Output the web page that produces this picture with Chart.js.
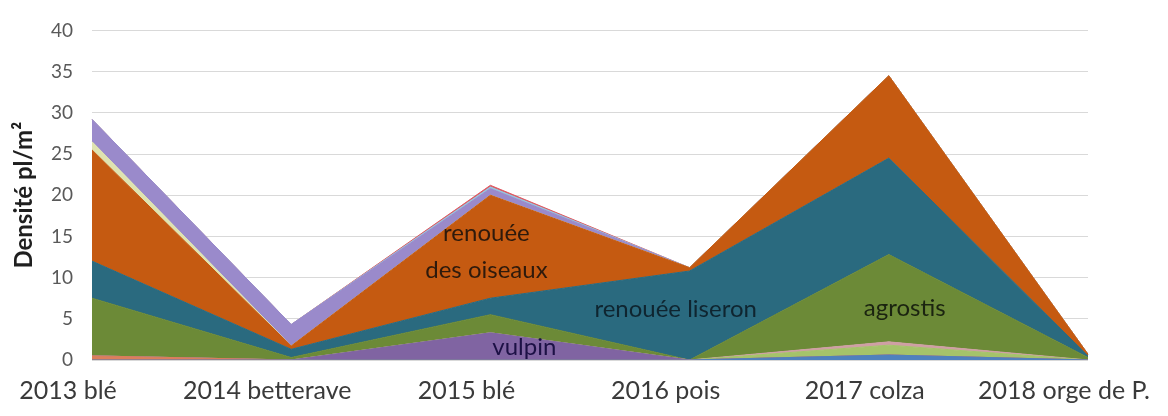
<!DOCTYPE html>
<html lang="fr">
<head>
<meta charset="utf-8">
<title>Densité des adventices</title>
<script src="https://cdn.jsdelivr.net/npm/chart.js@4.4.1/dist/chart.umd.min.js"></script>
<style>
  html, body { margin: 0; padding: 0; background: #fff; }
  #wrap { width: 1168px; height: 416px; }
</style>
</head>
<body>
<div id="wrap"><canvas id="chart" width="1168" height="416"></canvas></div>
<script>
// Categories (x axis)
const cultures = ['2013 blé', '2014 betterave', '2015 blé', '2016 pois', '2017 colza', '2018 orge de P.'];

// Stacked series, bottom to top (plants / m²)
const bleuet      = [0,   0,   0,   0,    0.6,  0];
const rayGrass    = [0.5, 0,   0,   0,    0,    0];
const vulpin      = [0,   0,   3.3, 0,    0,    0];
const matricaire  = [0,   0,   0,   0,    1.2,  0];
const pensee      = [0,   0,   0,   0,    0.4,  0];
const agrostis    = [7,   0.3, 2.2, 0,    10.6, 0.3];
const liseron     = [4.5, 1.0, 2.0, 10.8, 11.7, 0.2];
const oiseaux     = [13.5, 0.4, 12.5, 0.4, 10,  0.2];
const gaillet     = [1.0, 0,   0,   0,    0,    0];
const chenopode   = [2.7, 2.6, 0.8, 0,    0,    0];
const mouron      = [0,   0,   0.2, 0,    0,    0];
const geranium    = [0,   0,   0.2, 0,    0,    0];

// Y ticks
const yTicks = [0, 5, 10, 15, 20, 25, 30, 35, 40];

const series = [
  { name: 'bleuet', values: bleuet, color: '#4f81bd' },
  { name: 'ray-grass', values: rayGrass, color: '#dc7f5c' },
  { name: 'vulpin', values: vulpin, color: '#8064a2' },
  { name: 'matricaire', values: matricaire, color: '#a5c36a' },
  { name: 'pensée', values: pensee, color: '#cfa0a4' },
  { name: 'agrostis', values: agrostis, color: '#6c8a37' },
  { name: 'renouée liseron', values: liseron, color: '#2a6a7f' },
  { name: 'renouée des oiseaux', values: oiseaux, color: '#c55a11' },
  { name: 'gaillet', values: gaillet, color: '#dfe3b0' },
  { name: 'chénopode', values: chenopode, color: '#9a8acb' },
  { name: 'mouron', values: mouron, color: '#93c4dd' },
  { name: 'géranium', values: geranium, color: '#df5a63' }
];

// In-chart labels: category index (fractional) and value
const annotations = [
  { text: 'renouée', x: 1.98, y: 15.4, color: '#2e1a0c' },
  { text: 'des oiseaux', x: 1.98, y: 10.9, color: '#2e1a0c' },
  { text: 'renouée liseron', x: 2.93, y: 6.2, color: '#0f2530' },
  { text: 'agrostis', x: 4.08, y: 6.3, color: '#1b2410' },
  { text: 'vulpin', x: 2.17, y: 1.5, color: '#1c1045' }
];

const annotationPlugin = {
  id: 'areaLabels',
  afterDatasetsDraw(chart) {
    const ctx = chart.ctx;
    const xs = chart.scales.x;
    const ys = chart.scales.y;
    ctx.save();
    ctx.font = '24px Lato, "Open Sans", sans-serif';
    ctx.textAlign = 'center';
    ctx.textBaseline = 'middle';
    annotations.forEach(a => {
      ctx.fillStyle = a.color;
      ctx.fillText(a.text, xs.getPixelForValue(a.x), ys.getPixelForValue(a.y));
    });
    ctx.restore();
  }
};

const datasets = series.map((s, i) => ({
  label: s.name,
  data: s.values,
  backgroundColor: s.color,
  borderColor: s.color,
  borderWidth: 1,
  pointRadius: 0,
  tension: 0,
  fill: i === 0 ? 'origin' : '-1'
}));

new Chart(document.getElementById('chart'), {
  type: 'line',
  data: { labels: cultures, datasets: datasets },
  plugins: [annotationPlugin],
  options: {
    responsive: false,
    animation: false,
    layout: { padding: { top: 27, right: 80, bottom: 0, left: 0 } },
    plugins: {
      legend: { display: false },
      tooltip: { enabled: false }
    },
    scales: {
      x: {
        offset: false,
        grid: { display: false },
        border: { display: false },
        ticks: {
          color: '#3a3a3a',
          font: { family: 'Lato, "Open Sans", sans-serif', size: 25 },
          padding: 8,
          labelOffset: -24,
          maxRotation: 0,
          autoSkip: false
        },
        afterFit(scale) {
          scale.height = 56;
          scale.paddingLeft = 0;
          scale.paddingRight = 0;
        }
      },
      y: {
        stacked: true,
        min: 0,
        max: 40,
        afterBuildTicks(scale) {
          scale.ticks = yTicks.map(v => ({ value: v }));
        },
        grid: { color: '#d9d9d9', lineWidth: 1, drawTicks: false },
        border: { display: false },
        ticks: {
          color: '#595959',
          font: { family: 'Lato, "Open Sans", sans-serif', size: 19 },
          padding: 19
        },
        title: {
          display: true,
          text: 'Densité pl/m²',
          color: '#1f1f1f',
          font: { family: 'Lato, "Open Sans", sans-serif', size: 24, weight: 'bold' },
          padding: { top: 10, bottom: 0 }
        },
        afterFit(scale) {
          scale.width = 92;
        }
      }
    }
  }
});
</script>
</body>
</html>
